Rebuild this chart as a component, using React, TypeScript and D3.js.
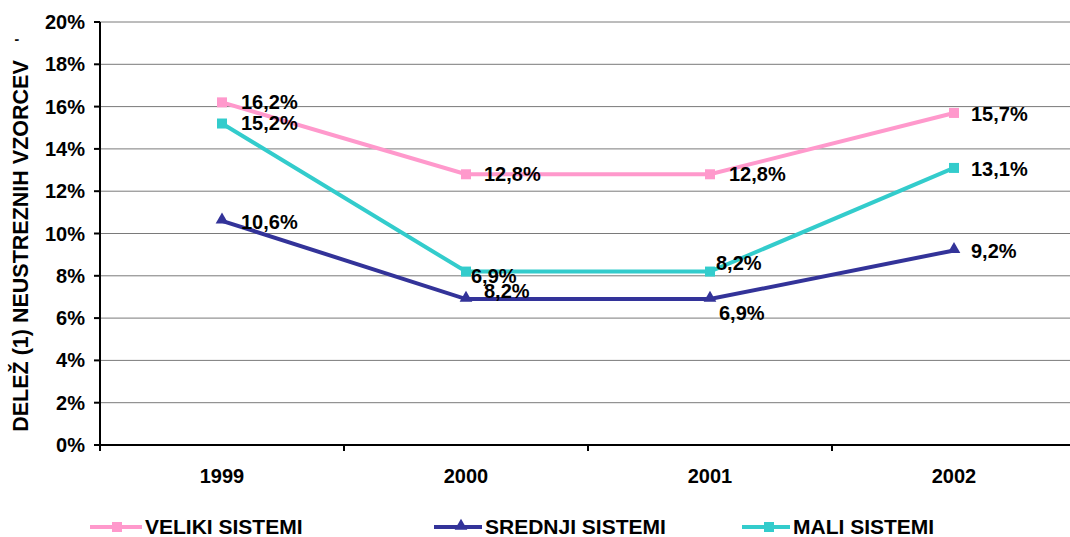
import React from 'react'
import * as d3 from 'd3'

// chart data
const years = ['1999', '2000', '2001', '2002']
const veliki = [16.2, 12.8, 12.8, 15.7]
const srednji = [10.6, 6.9, 6.9, 9.2]
const mali = [15.2, 8.2, 8.2, 13.1]
// data labels as printed in the original (2000 labels of srednji / mali are swapped there)
const velikiLabels = ['16,2%', '12,8%', '12,8%', '15,7%']
const srednjiLabels = ['10,6%', '8,2%', '6,9%', '9,2%']
const maliLabels = ['15,2%', '6,9%', '8,2%', '13,1%']
const yTicks = [0, 2, 4, 6, 8, 10, 12, 14, 16, 18, 20]

const W = 1070, H = 537
const font = 'Liberation Sans, Arial, sans-serif'

export default function App() {
    let x = d3.scalePoint().domain(years).range([100, 1076]).padding(0.5)
    let y = d3.scaleLinear().domain([0, 20]).range([445, 22])
    let step = x.step()

    let line = d3.line<number>()
        .x((d, i) => x(years[i]) as number)
        .y(d => y(d))

    // label offsets (dx, dy from the point) per series
    const velikiOff = [[19, 0], [18, 0], [19, 0], [17, 1]]
    const srednjiOff = [[19, 1], [18, -8], [9, 14], [17, 1]]
    const maliOff = [[19, -1], [5, 4], [6, -9], [17, 1]]

    let series = [
        { name: 'VELIKI SISTEMI', values: veliki, labels: velikiLabels, off: velikiOff, color: '#FF99CC', marker: 'square' },
        { name: 'SREDNJI SISTEMI', values: srednji, labels: srednjiLabels, off: srednjiOff, color: '#333399', marker: 'triangle' },
        { name: 'MALI SISTEMI', values: mali, labels: maliLabels, off: maliOff, color: '#33CCCC', marker: 'square' },
    ]
    // legend marker centres and text starts
    const legendX = [117, 461, 769]
    const legendTextX = [145, 485, 793]

    let marker = (kind: string, cx: number, cy: number, color: string, key: any) => {
        if (kind === 'triangle') {
            let p = d3.symbol().type(d3.symbolTriangle).size(70)()
            return <path key={key} d={p as string} transform={`translate(${cx},${cy - 1})`} fill={color} />
        }
        return <rect key={key} x={cx - 5} y={cy - 5} width={10} height={10} fill={color} />
    }

    return (
        <svg width={W} height={H} style={{ position: 'absolute', left: 0, top: 0, background: '#fff' }}
            fontFamily={font} fontWeight="bold">
            {/* gridlines */}
            {yTicks.filter(t => t > 0).map(t => (
                <line key={'g' + t} x1={100} x2={W} y1={y(t)} y2={y(t)} stroke="#7a7a7a" strokeWidth={1} />
            ))}
            {/* y axis */}
            <line x1={100} x2={100} y1={y(20)} y2={y(0)} stroke="#000" strokeWidth={2} />
            {yTicks.map(t => (
                <g key={'t' + t}>
                    <line x1={94} x2={100} y1={y(t)} y2={y(t)} stroke="#000" strokeWidth={2} />
                    <text x={85} y={y(t)} dy="0.35em" textAnchor="end" fontSize={20}>{t + '%'}</text>
                </g>
            ))}
            {/* x axis */}
            <line x1={100} x2={W} y1={y(0)} y2={y(0)} stroke="#000" strokeWidth={2} />
            {years.map((yr, i) => (
                <g key={yr}>
                    <line x1={(x(yr) as number) + step / 2} x2={(x(yr) as number) + step / 2} y1={y(0)} y2={y(0) + 6} stroke="#000" strokeWidth={2} />
                    <text x={x(yr)} y={476} dy="0.35em" textAnchor="middle" fontSize={20}>{yr}</text>
                </g>
            ))}
            <line x1={100} x2={100} y1={y(0)} y2={y(0) + 6} stroke="#000" strokeWidth={2} />
            {/* y title */}
            <text transform="translate(20,246) rotate(-90)" textAnchor="middle" dy="0.35em" fontSize={21.5}>
                DELEŽ (1) NEUSTREZNIH VZORCEV
            </text>
            <text transform="translate(20,40) rotate(-90)" textAnchor="middle" dy="0.35em" fontSize={14}>'</text>
            {/* series */}
            {series.map(s => (
                <g key={s.name}>
                    <path d={line(s.values) as string} fill="none" stroke={s.color} strokeWidth={4} />
                    {s.values.map((v, i) => marker(s.marker, x(years[i]) as number, y(v), s.color, i))}
                </g>
            ))}
            {series.map(s => s.values.map((v, i) => (
                <text key={s.name + 'l' + i} x={(x(years[i]) as number) + s.off[i][0]} y={y(v) + s.off[i][1]}
                    dy="0.35em" fontSize={20} fill="#000">{s.labels[i]}</text>
            )))}
            {/* legend */}
            {series.map((s, i) => (
                <g key={'lg' + i}>
                    <line x1={legendX[i] - 27} x2={legendTextX[i] - 3} y1={527} y2={527} stroke={s.color} strokeWidth={4} />
                    {marker(s.marker, legendX[i], 527, s.color, 'm')}
                    <text x={legendTextX[i]} y={527} dy="0.35em" fontSize={21}>{s.name}</text>
                </g>
            ))}
        </svg>
    )
}
